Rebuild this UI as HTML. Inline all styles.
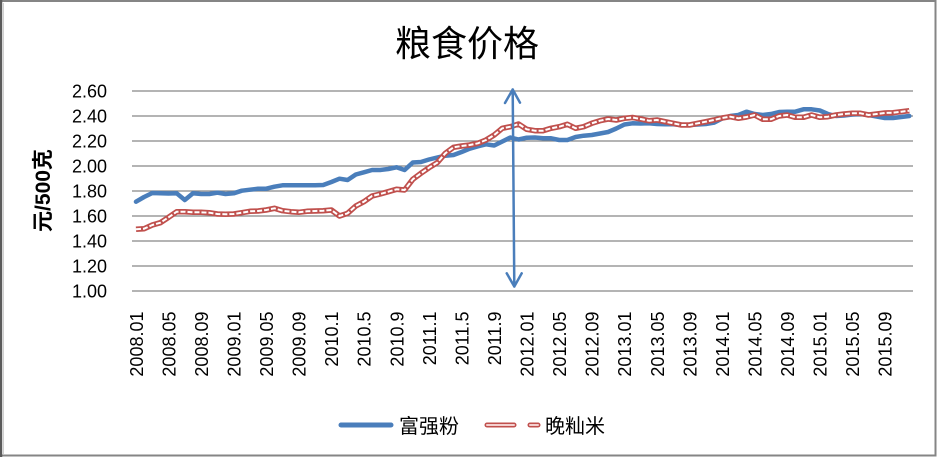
<!DOCTYPE html>
<html>
<head>
<meta charset="utf-8">
<style>
  html, body { margin: 0; padding: 0; background: #fff; }
  body { width: 937px; height: 457px; overflow: hidden; }
  svg { display: block; }
  text { font-family: "Liberation Sans", "Noto Sans CJK SC", sans-serif; fill: #000; }
</style>
</head>
<body>
<svg width="937" height="457" viewBox="0 0 937 457" xmlns="http://www.w3.org/2000/svg">
  <rect x="0" y="0" width="937" height="457" fill="#fff"/>
  <!-- outer border -->
  <rect x="1" y="1" width="934.5" height="454.5" fill="none" stroke="#858585" stroke-width="2"/>
  <line x1="1" y1="0" x2="1" y2="457" stroke="#5a5a5a" stroke-width="2.5"/>
  <line x1="3.5" y1="3" x2="3.5" y2="454" stroke="#d0d0d0" stroke-width="1"/>

  <!-- title -->
  <text x="467" y="56" font-size="36" text-anchor="middle" style="font-family:'Noto Sans CJK SC', sans-serif;">粮食价格</text>

  <!-- gridlines -->
  <g stroke="#868686" stroke-width="1.2">
    <line x1="132" y1="91" x2="913" y2="91"/>
    <line x1="132" y1="116" x2="913" y2="116"/>
    <line x1="132" y1="141" x2="913" y2="141"/>
    <line x1="132" y1="166" x2="913" y2="166"/>
    <line x1="132" y1="191" x2="913" y2="191"/>
    <line x1="132" y1="216" x2="913" y2="216"/>
    <line x1="132" y1="241" x2="913" y2="241"/>
    <line x1="132" y1="266" x2="913" y2="266"/>
    <line x1="132" y1="291" x2="913" y2="291"/>
  </g>

  <!-- y tick labels -->
  <g font-size="18" text-anchor="end">
    <text x="107" y="97.5">2.60</text>
    <text x="107" y="122.5">2.40</text>
    <text x="107" y="147.5">2.20</text>
    <text x="107" y="172.5">2.00</text>
    <text x="107" y="197.5">1.80</text>
    <text x="107" y="222.5">1.60</text>
    <text x="107" y="247.5">1.40</text>
    <text x="107" y="272.5">1.20</text>
    <text x="107" y="297.5">1.00</text>
  </g>

  <!-- y axis title -->
  <text transform="translate(50,190.5) rotate(-90)" font-size="21" font-weight="bold" text-anchor="middle">元/500克</text>

  <!-- x labels -->
  <g font-size="18" text-anchor="end">
    <text transform="translate(142.8,311.5) rotate(-90)">2008.01</text>
    <text transform="translate(175.4,311.5) rotate(-90)">2008.05</text>
    <text transform="translate(207.9,311.5) rotate(-90)">2008.09</text>
    <text transform="translate(240.5,311.5) rotate(-90)">2009.01</text>
    <text transform="translate(273.0,311.5) rotate(-90)">2009.05</text>
    <text transform="translate(305.6,311.5) rotate(-90)">2009.09</text>
    <text transform="translate(338.2,311.5) rotate(-90)">2010.1</text>
    <text transform="translate(370.7,311.5) rotate(-90)">2010.5</text>
    <text transform="translate(403.3,311.5) rotate(-90)">2010.9</text>
    <text transform="translate(435.8,311.5) rotate(-90)">2011.1</text>
    <text transform="translate(468.4,311.5) rotate(-90)">2011.5</text>
    <text transform="translate(501.0,311.5) rotate(-90)">2011.9</text>
    <text transform="translate(533.5,311.5) rotate(-90)">2012.01</text>
    <text transform="translate(566.1,311.5) rotate(-90)">2012.05</text>
    <text transform="translate(598.6,311.5) rotate(-90)">2012.09</text>
    <text transform="translate(631.2,311.5) rotate(-90)">2013.01</text>
    <text transform="translate(663.8,311.5) rotate(-90)">2013.05</text>
    <text transform="translate(696.3,311.5) rotate(-90)">2013.09</text>
    <text transform="translate(728.9,311.5) rotate(-90)">2014.01</text>
    <text transform="translate(761.4,311.5) rotate(-90)">2014.05</text>
    <text transform="translate(794.0,311.5) rotate(-90)">2014.09</text>
    <text transform="translate(826.6,311.5) rotate(-90)">2015.01</text>
    <text transform="translate(859.1,311.5) rotate(-90)">2015.05</text>
    <text transform="translate(891.7,311.5) rotate(-90)">2015.09</text>
  </g>

  <!-- blue series 富强粉 -->
  <polyline fill="none" stroke="#4A7EBB" stroke-width="4.5" stroke-linejoin="round" stroke-linecap="round"
    points="136,201.7 144.1,197 152.3,193 160.4,193.3 168.6,193.5 176.7,193.3 184.8,200 193,193.3 201.1,194 209.3,194 217.4,192.7 225.5,194 233.7,193.3 241.8,190.7 250,189.7 258.1,188.7 266.2,188.7 274.4,186.7 282.5,185.3 290.7,185.3 298.8,185.3 306.9,185.3 315.1,185.3 323.2,185 331.4,182 339.5,178.7 347.6,180 355.8,174.5 363.9,172.3 372.1,170 380.2,170 388.3,169 396.5,167.3 404.6,170 412.8,162.5 420.9,162 429,159.5 437.2,157.5 445.3,155.7 453.5,155 461.6,152 469.7,148.7 477.9,146.3 486,144.3 494.2,145.5 502.3,141.5 510.4,137.5 518.6,139.5 526.7,137.7 534.9,137.5 543,138.3 551.1,138.3 559.3,140 567.4,140 575.6,137 583.7,135.7 591.8,135 600,133.5 608.1,132 616.3,128.5 624.4,124.5 632.5,123.3 640.7,123.5 648.8,123.3 657,124 665.1,124.3 673.2,124.3 681.4,125 689.5,125 697.7,124.5 705.8,124 713.9,122.7 722.1,118.5 730.2,116 738.4,115 746.5,111.7 754.6,114 762.8,115 770.9,114 779.1,112 787.2,111.7 795.3,111.7 803.5,109.3 811.6,109.3 819.8,110.5 827.9,114 836,116 844.2,115.5 852.3,114.5 860.5,114 868.6,115 876.7,116.5 884.9,118 893,118 901.2,117 909.3,116"/>

  <!-- red series 晚籼米 -->
  <g fill="none" stroke-linejoin="round">
    <polyline stroke="#C0504D" stroke-width="5.5"
      points="136,229.3 144.1,228.7 152.3,225 160.4,222.7 168.6,217.3 176.7,211.7 184.8,211.7 193,212.3 201.1,212.3 209.3,212.7 217.4,214 225.5,214.3 233.7,214 241.8,212.7 250,211.3 258.1,211 266.2,210 274.4,208.3 282.5,210.7 290.7,211.7 298.8,212.3 306.9,211.3 315.1,211 323.2,210.7 331.4,210 339.5,216 347.6,213.3 355.8,206 363.9,201.7 372.1,196 380.2,194 388.3,191.7 396.5,189.3 404.6,190 412.8,179.3 420.9,173.3 429,167.7 437.2,162.7 445.3,153.3 453.5,147.3 461.6,146 469.7,145 477.9,143.3 486,140 494.2,135 502.3,128.3 510.4,126.7 518.6,124 526.7,129.3 534.9,130.7 543,130.7 551.1,128.3 559.3,126.7 567.4,124.3 575.6,128.3 583.7,126.7 591.8,123.3 600,120.7 608.1,119 616.3,120 624.4,118.3 632.5,117.5 640.7,119 648.8,120.7 657,120 665.1,121.7 673.2,123.3 681.4,125 689.5,125 697.7,123.3 705.8,121.7 713.9,120 722.1,118 730.2,116.7 738.4,118.3 746.5,117 754.6,115 762.8,119.3 770.9,119.3 779.1,116 787.2,115 795.3,117.3 803.5,117.3 811.6,115 819.8,117.3 827.9,116.7 836,115 844.2,114 852.3,113.3 860.5,113.3 868.6,115 876.7,114 884.9,113 893,112.7 901.2,111.7 909.3,110.7"/>
    <polyline stroke="#ffffff" stroke-width="2" stroke-dasharray="5 2"
      points="136,229.3 144.1,228.7 152.3,225 160.4,222.7 168.6,217.3 176.7,211.7 184.8,211.7 193,212.3 201.1,212.3 209.3,212.7 217.4,214 225.5,214.3 233.7,214 241.8,212.7 250,211.3 258.1,211 266.2,210 274.4,208.3 282.5,210.7 290.7,211.7 298.8,212.3 306.9,211.3 315.1,211 323.2,210.7 331.4,210 339.5,216 347.6,213.3 355.8,206 363.9,201.7 372.1,196 380.2,194 388.3,191.7 396.5,189.3 404.6,190 412.8,179.3 420.9,173.3 429,167.7 437.2,162.7 445.3,153.3 453.5,147.3 461.6,146 469.7,145 477.9,143.3 486,140 494.2,135 502.3,128.3 510.4,126.7 518.6,124 526.7,129.3 534.9,130.7 543,130.7 551.1,128.3 559.3,126.7 567.4,124.3 575.6,128.3 583.7,126.7 591.8,123.3 600,120.7 608.1,119 616.3,120 624.4,118.3 632.5,117.5 640.7,119 648.8,120.7 657,120 665.1,121.7 673.2,123.3 681.4,125 689.5,125 697.7,123.3 705.8,121.7 713.9,120 722.1,118 730.2,116.7 738.4,118.3 746.5,117 754.6,115 762.8,119.3 770.9,119.3 779.1,116 787.2,115 795.3,117.3 803.5,117.3 811.6,115 819.8,117.3 827.9,116.7 836,115 844.2,114 852.3,113.3 860.5,113.3 868.6,115 876.7,114 884.9,113 893,112.7 901.2,111.7 909.3,110.7"/>
  </g>

  <!-- double-headed arrow -->
  <g fill="none" stroke="#4A7EBB" stroke-width="2.5" stroke-linecap="round" stroke-linejoin="round">
    <line x1="512.7" y1="89.5" x2="514.3" y2="286.5"/>
    <polyline points="505,103 512.7,89.5 520,102.7"/>
    <polyline points="506.7,273.3 514.3,286.5 521.7,273.3"/>
  </g>

  <!-- legend -->
  <line x1="341" y1="425" x2="391" y2="425" stroke="#4A7EBB" stroke-width="5" stroke-linecap="round"/>
  <text x="399" y="433" font-size="20" style="font-family:'Noto Sans CJK SC', sans-serif;">富强粉</text>
  <g stroke-linecap="round">
    <line x1="487" y1="425" x2="514" y2="425" stroke="#C0504D" stroke-width="5"/>
    <line x1="487" y1="425" x2="514" y2="425" stroke="#f4d0cf" stroke-width="2"/>
    <line x1="530" y1="425" x2="538" y2="425" stroke="#C0504D" stroke-width="5"/>
    <line x1="530" y1="425" x2="538" y2="425" stroke="#f4d0cf" stroke-width="2"/>
  </g>
  <text x="545" y="433" font-size="20" style="font-family:'Noto Sans CJK SC', sans-serif;">晚籼米</text>
</svg>
</body>
</html>
